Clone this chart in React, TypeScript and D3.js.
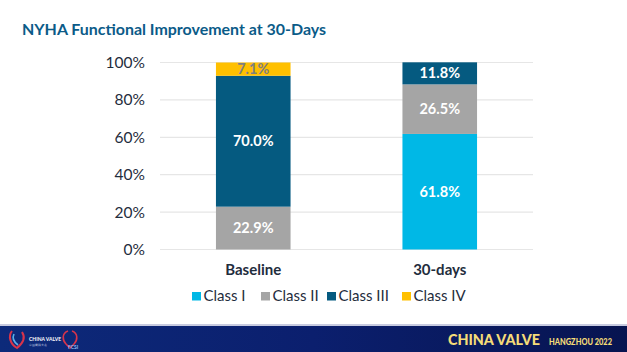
import React from "react";
import * as d3 from "d3";

const categories = ["Baseline", "30-days"];
const seriesNames = ["Class I", "Class II", "Class III", "Class IV"];
const classI = [0, 61.8];
const classII = [22.9, 26.5];
const classIII = [70.0, 11.8];
const classIV = [7.1, 0];
const yTicks = [0, 20, 40, 60, 80, 100];
const colors = ["#00b8e6", "#a5a5a5", "#055a80", "#ffc000"];
const labelColors = ["#ffffff", "#ffffff", "#ffffff", "#7f7f7f"];

const W = 627, H = 352;
const FONT = "Lato, 'Open Sans', sans-serif";

export default function App() {
  const rows = categories.map((c, i) => ({
    cat: c,
    "Class I": classI[i],
    "Class II": classII[i],
    "Class III": classIII[i],
    "Class IV": classIV[i],
  }));
  const stack = d3.stack<any>().keys(seriesNames)(rows);
  const x = d3.scaleBand().domain(categories).range([160, 533]).paddingInner(0.6).paddingOuter(0.3);
  const y = d3.scaleLinear().domain([0, 100]).range([249.5, 62.5]);

  const legendX = [192, 261, 327, 402];

  return (
    <svg width={W} height={H} style={{ position: "absolute", left: 0, top: 0 }}>
      <defs>
        <linearGradient id="foot" x1="0" x2="1" y1="0" y2="0">
          <stop offset="0" stopColor="#0d2a7a" />
          <stop offset="0.5" stopColor="#0b1f6e" />
          <stop offset="1" stopColor="#071450" />
        </linearGradient>
      </defs>
      <rect width={W} height={H} fill="#ffffff" />
      <text x={22} y={35} fontFamily={FONT} fontWeight={700} fontSize={14.8} fill="#0b5b88"
        textLength={304} lengthAdjust="spacingAndGlyphs">
        NYHA Functional Improvement at 30-Days
      </text>
      {yTicks.map((t) => (
        <g key={t}>
          <line x1={160} x2={533} y1={y(t)} y2={y(t)} stroke="#e6e6e6" strokeWidth={1.2} />
          <text x={145} y={y(t) + 5.5} textAnchor="end" fontFamily={FONT} fontSize={15.5} fill="#1f2d3d">
            {t}%
          </text>
        </g>
      ))}
      {stack.map((s, si) =>
        s.map((d, ci) => {
          const v = d[1] - d[0];
          if (v <= 0) return null;
          const bx = x(categories[ci])!;
          const bw = x.bandwidth();
          return (
            <g key={`${si}-${ci}`}>
              <rect x={bx} y={y(d[1])} width={bw} height={y(d[0]) - y(d[1])} fill={colors[si]} />
              <text
                x={bx + bw / 2}
                y={(y(d[0]) + y(d[1])) / 2 + 5}
                textAnchor="middle"
                fontFamily={FONT}
                fontWeight={700}
                fontSize={14.5}
                fill={labelColors[si]}
              >
                {v.toFixed(1)}%
              </text>
            </g>
          );
        })
      )}
      {categories.map((c) => (
        <text
          key={c}
          x={x(c)! + x.bandwidth() / 2}
          y={275}
          textAnchor="middle"
          fontFamily={FONT}
          fontWeight={700}
          fontSize={15}
          fill="#1f2d3d"
        >
          {c}
        </text>
      ))}
      {seriesNames.map((n, i) => (
        <g key={n}>
          <rect x={legendX[i]} y={292} width={9} height={8.5} fill={colors[i]} />
          <text x={legendX[i] + 11.5} y={301} fontFamily={FONT} fontSize={15} fill="#1f2d3d">
            {n}
          </text>
        </g>
      ))}
      <rect x={0} y={324} width={W} height={2} fill="#c8cbe0" />
      <rect x={0} y={326} width={W} height={26} fill="url(#foot)" />
      <g>
        <path d="M12 331 C 8 336, 10 344, 17 348 C 22 344, 26 338, 22 332" fill="none" stroke="#d8344a" strokeWidth={2} />
        <path d="M14 334 C 12 338, 14 342, 18 345" fill="none" stroke="#5ab0e8" strokeWidth={1.6} />
        <text x={29} y={341} fontFamily={FONT} fontWeight={700} fontSize={5} fill="#ffffff">CHINA VALVE</text>
        <text x={29} y={346} fontFamily={FONT} fontSize={3} fill="#c0c8e0">中国瓣膜大会</text>
        <path d="M68 331 C 62 333, 62 340, 66 344 L 70 348 L 74 344 C 78 340, 78 333, 72 331" fill="none" stroke="#d8344a" strokeWidth={1.6} />
        <text x={68} y={349} fontFamily={FONT} fontWeight={700} fontSize={5} fill="#8fb8f0">FCSI</text>
      </g>
      <text x={448} y={345} fontFamily={FONT} fontWeight={900} fontSize={15} fill="#f5dc78"
        textLength={92} lengthAdjust="spacingAndGlyphs">
        CHINA VALVE
      </text>
      <text x={549} y={345} fontFamily={FONT} fontWeight={900} fontSize={8.5} fill="#f5dc78"
        textLength={63} lengthAdjust="spacingAndGlyphs">
        HANGZHOU 2022
      </text>
    </svg>
  );
}
